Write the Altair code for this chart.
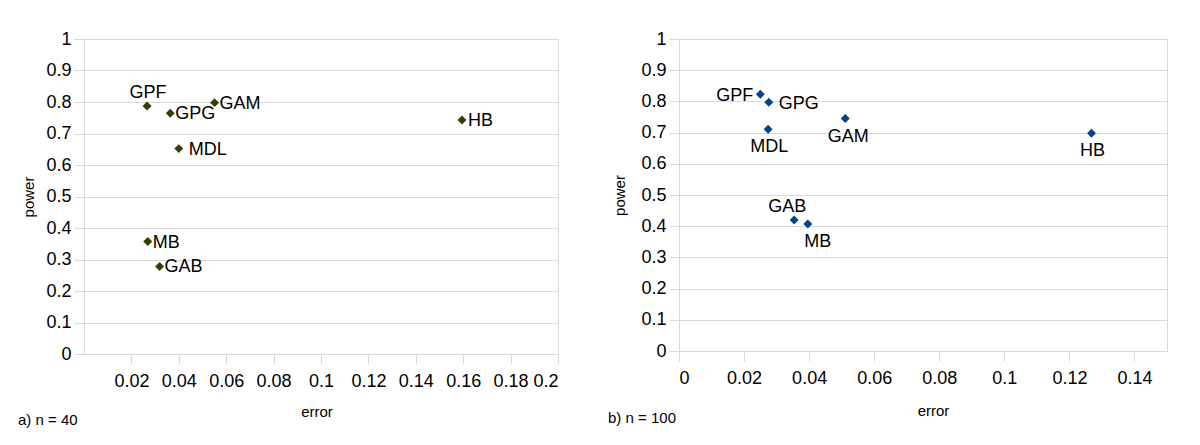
import altair as alt
import pandas as pd

FONT = "Liberation Sans"

# ---- data: panel a (n = 40) ----
names_a = ["GPF", "GPG", "GAM", "MDL", "HB", "MB", "GAB"]
error_a = [0.0266, 0.0364, 0.0551, 0.0400, 0.1595, 0.0269, 0.0319]
power_a = [0.787, 0.764, 0.798, 0.652, 0.743, 0.357, 0.278]

# ---- data: panel b (n = 100) ----
names_b = ["GPF", "GPG", "MDL", "GAM", "GAB", "MB", "HB"]
error_b = [0.0250, 0.0276, 0.0274, 0.0511, 0.0354, 0.0396, 0.1268]
power_b = [0.823, 0.797, 0.711, 0.745, 0.420, 0.407, 0.698]

y_ticks = [0, 0.1, 0.2, 0.3, 0.4, 0.5, 0.6, 0.7, 0.8, 0.9, 1]
x_ticks_a = [0.02, 0.04, 0.06, 0.08, 0.1, 0.12, 0.14, 0.16, 0.18, 0.2]
x_ticks_b = [0, 0.02, 0.04, 0.06, 0.08, 0.1, 0.12, 0.14]

caption_a = "a) n = 40"
caption_b = "b) n = 100"

# label placement groups (style)
place_a = [
    (["GPG", "GAM", "MB", "GAB"], dict(align="left", baseline="middle", dx=5, dy=1)),
    (["HB"], dict(align="left", baseline="middle", dx=6, dy=1)),
    (["MDL"], dict(align="left", baseline="middle", dx=10, dy=1)),
    (["GPF"], dict(align="center", baseline="alphabetic", dx=1, dy=-8)),
]
place_b = [
    (["GPF"], dict(align="right", baseline="middle", dx=-7, dy=1.5)),
    (["GPG"], dict(align="left", baseline="middle", dx=10, dy=2)),
    (["MDL", "HB"], dict(align="center", baseline="top", dx=1, dy=9)),
    (["GAM"], dict(align="center", baseline="top", dx=3, dy=9)),
    (["MB"], dict(align="center", baseline="top", dx=10, dy=9)),
    (["GAB"], dict(align="center", baseline="alphabetic", dx=-7, dy=-8)),
]

GRID = "#d9d9d9"


def panel(names, errs, pows, xdom, xticks, color, width, height, places,
          caption, cap_x, cap_y, xtitle_x, xtitle_y, ytitle_x):
    df = pd.DataFrame({"name": names, "error": errs, "power": pows})
    x = alt.X(
        "error:Q",
        scale=alt.Scale(domain=xdom, nice=False, zero=False),
        axis=alt.Axis(values=xticks, format="~g", title="error", grid=False,
                      tickSize=10, labelPadding=8, titleX=xtitle_x,
                      titleY=xtitle_y, titleBaseline="alphabetic"),
    )
    y = alt.Y(
        "power:Q",
        scale=alt.Scale(domain=[0, 1], nice=False),
        axis=alt.Axis(values=y_ticks, format="~g", title="power", grid=True,
                      tickSize=10, labelPadding=3, titleX=ytitle_x,
                      titleY=height / 2, titleBaseline="middle",
                      titleAngle=-90),
    )
    base = alt.Chart(df)
    pts = base.mark_point(shape="diamond", filled=True, size=80,
                          color=color, opacity=1).encode(x=x, y=y)
    layers = [pts]
    for group, kw in places:
        layers.append(
            base.transform_filter(alt.FieldOneOfPredicate(field="name", oneOf=group))
            .mark_text(font=FONT, fontSize=18, color="#000000", **kw)
            .encode(x=x, y=y, text="name:N")
        )
    cap = alt.Chart(pd.DataFrame({"c": [caption]})).mark_text(
        font=FONT, fontSize=15, align="left", baseline="alphabetic", color="#000000"
    ).encode(text="c:N", x=alt.value(cap_x), y=alt.value(cap_y))
    layers.append(cap)
    return alt.layer(*layers).properties(width=width, height=height)


left = panel(names_a, error_a, power_a, [0, 0.2], x_ticks_a, "#314004",
             474, 315, place_a, caption_a, -66, 386, 232.5, 62, -56)
right = panel(names_b, error_b, power_b, [0, 0.15], x_ticks_b, "#004586",
              488, 312, place_b, caption_b, -71, 384, 254, 64, -60)

chart = (
    alt.hconcat(left, right, spacing=121, bounds="flush")
    .properties(padding={"left": 9, "top": 21, "right": 5, "bottom": 5})
    .configure_view(stroke=GRID, strokeWidth=1)
    .configure_axis(
        gridColor=GRID, domainColor=GRID, tickColor=GRID,
        labelFont=FONT, labelFontSize=18, labelColor="#000000",
        titleFont=FONT, titleFontSize=15, titleFontWeight="normal",
        titleColor="#000000",
    )
)

chart.save("out.html", embed_options={"renderer": "svg", "actions": False})
